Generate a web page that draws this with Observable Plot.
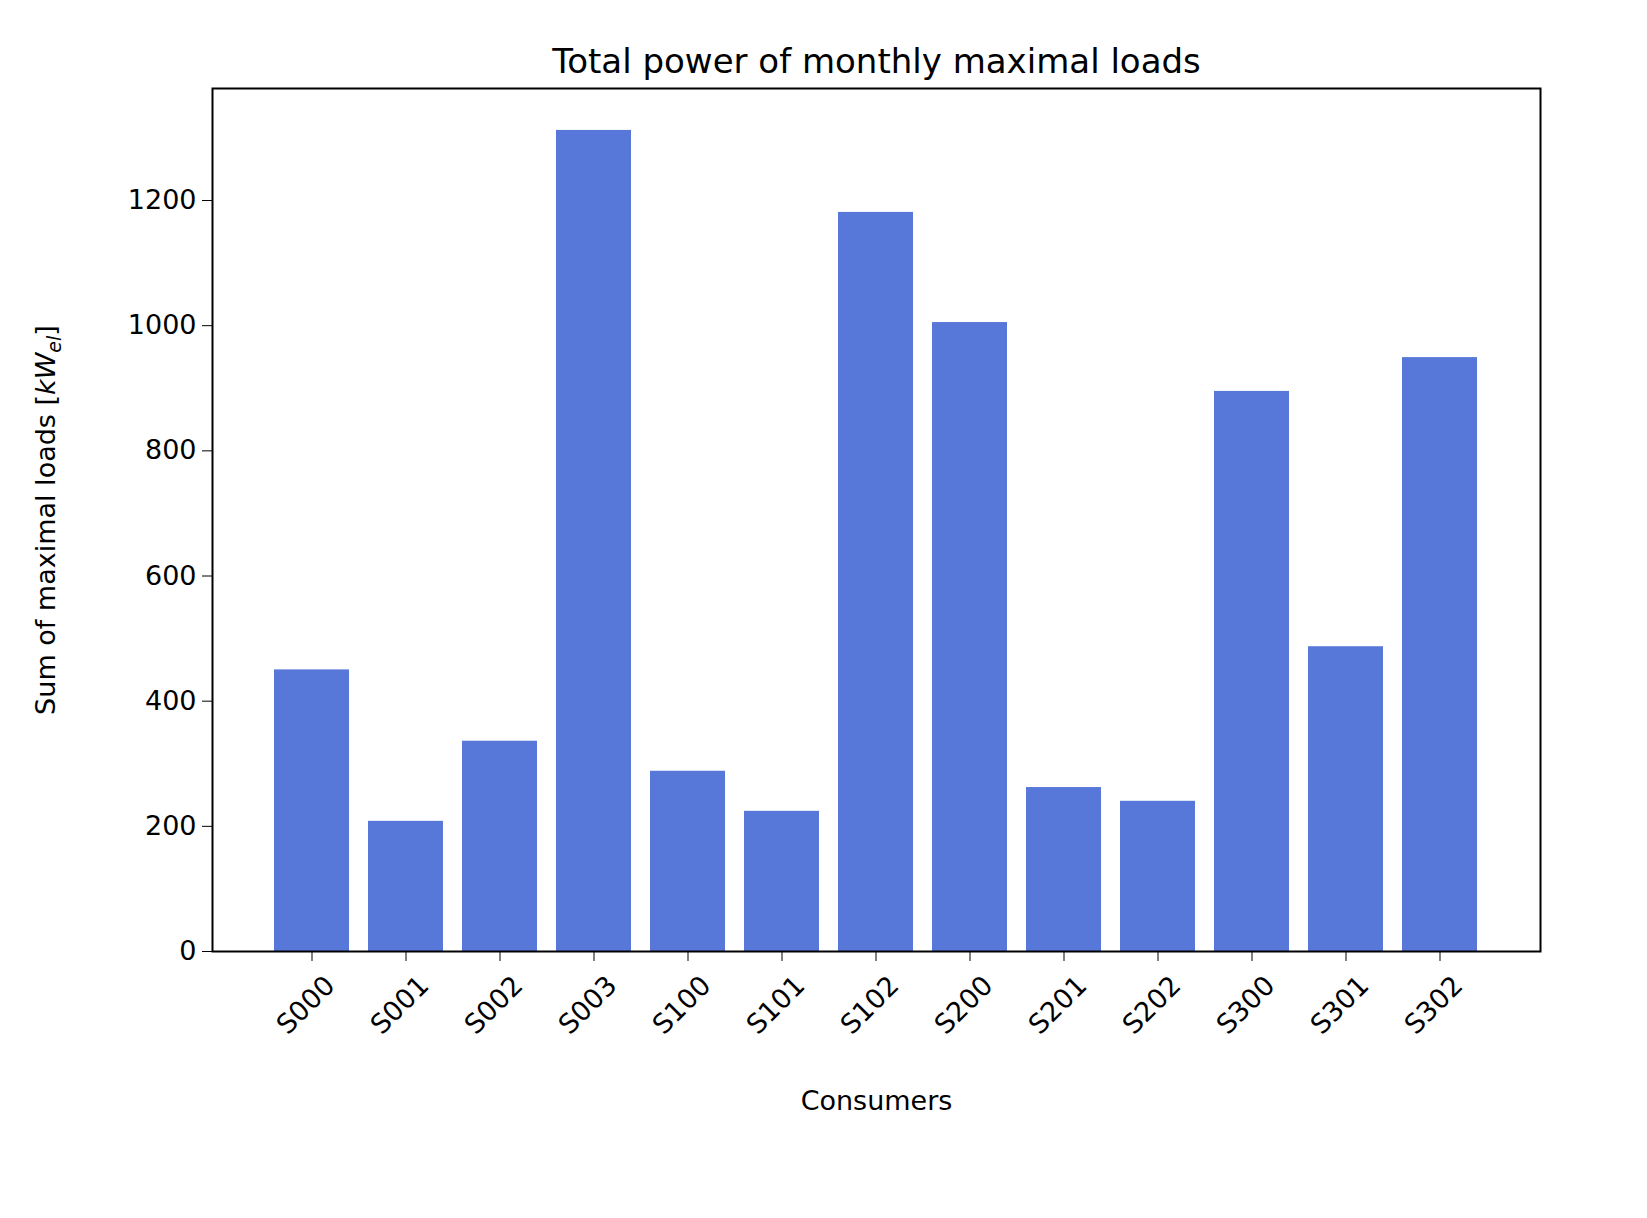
<!DOCTYPE html>
<html>
<head>
<meta charset="utf-8">
<script src="https://cdn.jsdelivr.net/npm/d3@7"></script>
<script src="https://cdn.jsdelivr.net/npm/@observablehq/plot@0.6"></script>
<style>
  html, body { margin: 0; background: #fff; overflow: hidden; }
  svg { max-width: none !important; }
</style>
</head>
<body>
<div id="chart"></div>
<script>
const consumers = ["S000", "S001", "S002", "S003", "S100", "S101", "S102", "S200", "S201", "S202", "S300", "S301", "S302"]
const loads = [450, 208, 336, 1312, 288, 224, 1181, 1005, 262, 240, 895, 487, 949]
const yTicks = [0, 200, 400, 600, 800, 1000, 1200]

const data = consumers.map((c, i) => ({consumer: c, load: loads[i]}))

const chart = Plot.plot({
  width: 1647,
  height: 1218,
  marginTop: 88,
  marginLeft: 212,
  marginRight: 107,
  marginBottom: 267,
  style: {fontFamily: "DejaVu Sans", fontSize: "27px", color: "#000", background: "#fff"},
  x: {domain: consumers, paddingInner: 0.2, paddingOuter: 0.64, label: null},
  y: {domain: [0, 1379], label: null},
  marks: [
    Plot.barY(data, {x: "consumer", y: "load", fill: "#5778d9"}),
    Plot.axisX({tickSize: 10, text: null}),
    Plot.text(consumers, {x: d => d, frameAnchor: "bottom", rotate: -45, dy: 60, fontSize: 27}),
    Plot.axisY({ticks: yTicks, tickFormat: "d", tickSize: 10, tickPadding: 6, fontSize: 27}),
    Plot.frame({stroke: "#000", strokeWidth: 2}),
    Plot.text(["Total power of monthly maximal loads"], {frameAnchor: "top", dy: -40, fontSize: 34}),
    Plot.text(["Consumers"], {frameAnchor: "bottom", dy: 158, fontSize: 27})
  ]
})

// y label with subscript
d3.select(chart).append("text")
  .attr("transform", "translate(55,520) rotate(-90)")
  .attr("text-anchor", "middle")
  .attr("font-size", 27)
  .attr("fill", "#000")
  .call(t => {
    t.append("tspan").text("Sum of maximal loads [")
    t.append("tspan").attr("font-style", "italic").text("kW")
    t.append("tspan").attr("font-style", "italic").attr("font-size", 19).attr("dy", 6).text("el")
    t.append("tspan").attr("dy", -6).text("]")
  })

d3.select('#chart').append(() => chart)
</script>
</body>
</html>
